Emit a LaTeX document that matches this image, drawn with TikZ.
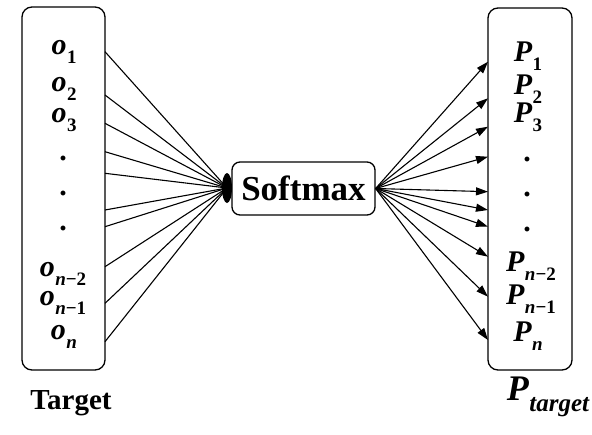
\documentclass[tikz,border=0pt]{standalone}
\usepackage{fontspec}
\setmainfont{Liberation Serif}
\usetikzlibrary{arrows.meta,shapes.geometric}
\newcommand{\vsub}[2]{{\bfseries\itshape #1}\kern0.5pt\raisebox{-0.3em}{\fontsize{19}{21}\selectfont\bfseries #2}}
\begin{document}
\begin{tikzpicture}[x=1pt,y=-1pt,
  box/.style={draw,line width=1.3pt,rounded corners=10pt},
  lab/.style={font=\fontsize{30}{34}\selectfont,inner sep=0pt},
  conn/.style={line width=1.1pt},
  arr/.style={line width=1.1pt,-{Triangle[length=12pt,width=8pt]}}]
\useasboundingbox (0,0) rectangle (592,434);
% boxes
\node[box,minimum width=83pt,minimum height=363pt] (L) at (63.5,188.5) {};
\node[box,minimum width=84pt,minimum height=362pt] (R) at (530,189) {};
\node[draw,line width=1.3pt,rounded corners=8pt,minimum width=143pt,minimum height=53pt,
      font=\bfseries\fontsize{35}{38}\selectfont] (S) at (303.5,188.5) {Softmax};
\node[ellipse,fill=black,minimum width=10pt,minimum height=30pt,inner sep=0pt] (E) at (227,188) {};
% left labels
\node[lab] (o1) at (64,52) {\vsub{o}{1}};
\node[lab] (o2) at (64,89) {\vsub{o}{2}};
\node[lab] (o3) at (64,120) {\vsub{o}{3}};
\node[lab] (d1) at (63,158) {\bfseries .};
\node[lab] (d2) at (63,193) {\bfseries .};
\node[lab] (d3) at (63,228) {\bfseries .};
\node[lab] (on2) at (63,274) {\vsub{o}{{\itshape n}−2}};
\node[lab] (on1) at (63,303) {\vsub{o}{{\itshape n}−1}};
\node[lab] (on) at (64,337) {\vsub{o}{\itshape n}};
% right labels
\node[lab] (p1) at (528,56) {\vsub{P}{1}};
\node[lab] (p2) at (528,89) {\vsub{P}{2}};
\node[lab] (p3) at (528,117) {\vsub{P}{3}};
\node[lab] (q1) at (527,159) {\bfseries .};
\node[lab] (q2) at (527,194) {\bfseries .};
\node[lab] (q3) at (527,229) {\bfseries .};
\node[lab] (pn2) at (531,266) {\vsub{P}{{\itshape n}−2}};
\node[lab] (pn1) at (531,299) {\vsub{P}{{\itshape n}−1}};
\node[lab] (pn) at (528,336) {\vsub{P}{\itshape n}};
% captions
\node[font=\bfseries\fontsize{29}{32}\selectfont,inner sep=0pt] (T) at (71,403) {Target};
\node[font=\fontsize{36}{40}\selectfont,inner sep=0pt] (PT) at (548,397) {{\bfseries\itshape P}\kern0.5pt\raisebox{-0.3em}{\fontsize{25}{27}\selectfont\bfseries\itshape target}};
% connectors in
\foreach \y [count=\i] in {51.7,95,123.3,151.7,173.3,210,226.7,266.7,303.3,341.7}{
  \coordinate (a\i) at (105,\y);
  \draw[conn] (a\i) -- (E.center);
}
% connectors out
\foreach \y [count=\i] in {61.7,98.3,126.7,156.7,191.7,210,226.7,256.7,296.7,340}{
  \coordinate (b\i) at (488,\y);
  \draw[arr] (S.east) -- (b\i);
}
\end{tikzpicture}
\end{document}
